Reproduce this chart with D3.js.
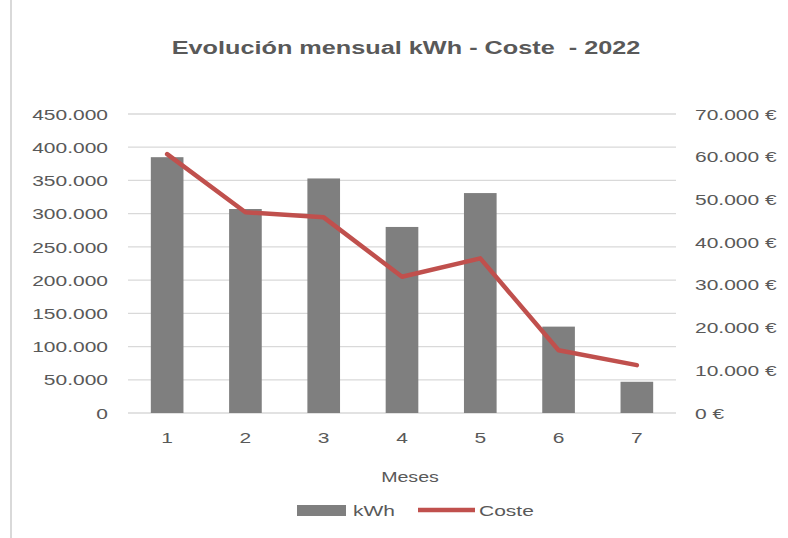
<!DOCTYPE html>
<html>
<head>
<meta charset="utf-8">
<script src="https://cdn.jsdelivr.net/npm/d3@7"></script>
<style>
  html, body { margin: 0; padding: 0; background: #fff; }
  svg { display: block; font-family: "Liberation Sans", Arial, sans-serif; }
</style>
</head>
<body>
<svg id="chart" width="788" height="538"></svg>
<script>
// ---- data ----
const months = ["1", "2", "3", "4", "5", "6", "7"];
const kwh = [385000, 307000, 353000, 280000, 331000, 130000, 47000];
const coste = [60600, 47000, 45800, 31900, 36200, 14700, 11200];
const leftTicks = [0, 50000, 100000, 150000, 200000, 250000, 300000, 350000, 400000, 450000];
const rightTicks = [0, 10000, 20000, 30000, 40000, 50000, 60000, 70000];
const titleText = "Evolución mensual kWh - Coste  - 2022";
const xTitle = "Meses";
const seriesNames = ["kWh", "Coste"];

// ---- layout ----
const W = 788, H = 538;
const plot = { left: 128, right: 676, top: 114, bottom: 413 };
const SX = 1.4; // horizontal text stretch seen in the reference
const textColor = "#595959";
const gridColor = "#d9d9d9";
const barColor = "#7f7f7f";
const lineColor = "#c0504d";

const svg = d3.select("#chart");
svg.append("rect").attr("width", W).attr("height", H).attr("fill", "#fff");
svg.append("line").attr("x1", 11).attr("x2", 11).attr("y1", 0).attr("y2", H)
  .attr("stroke", gridColor).attr("stroke-width", 2);

const locale = d3.formatLocale({ decimal: ",", thousands: ".", grouping: [3], currency: ["", " €"] });
const fmt = locale.format(",");

const x = d3.scaleBand().domain(months).range([plot.left, plot.right])
  .paddingInner(0.583).paddingOuter(0.2915);
const yL = d3.scaleLinear().domain([0, 450000]).range([plot.bottom, plot.top]);
const yR = d3.scaleLinear().domain([0, 70000]).range([plot.bottom, plot.top]);

// gridlines
svg.append("g").selectAll("line").data(leftTicks).join("line")
  .attr("x1", plot.left).attr("x2", plot.right)
  .attr("y1", d => yL(d)).attr("y2", d => yL(d))
  .attr("stroke", gridColor).attr("stroke-width", 1.3);

// bars
svg.append("g").selectAll("rect").data(kwh).join("rect")
  .attr("x", (d, i) => x(months[i]))
  .attr("width", x.bandwidth())
  .attr("y", d => yL(d))
  .attr("height", d => yL(0) - yL(d))
  .attr("fill", barColor);

// line
const line = d3.line()
  .x((d, i) => x(months[i]) + x.bandwidth() / 2)
  .y(d => yR(d));
svg.append("path").datum(coste).attr("d", line)
  .attr("fill", "none").attr("stroke", lineColor).attr("stroke-width", 4.5)
  .attr("stroke-linejoin", "round").attr("stroke-linecap", "round");

function styleAxis(g) {
  g.select(".domain").remove();
  g.selectAll(".tick line").remove();
  g.selectAll("text").attr("fill", textColor).style("font-size", "15px")
    .style("font-family", "'Liberation Sans', Arial, sans-serif");
}

// left axis
const gL = svg.append("g").attr("transform", `translate(${plot.left},0)`)
  .call(d3.axisLeft(yL).tickValues(leftTicks).tickFormat(fmt).tickSize(0));
styleAxis(gL);
gL.selectAll("text").attr("x", -20 / SX).attr("dy", "0.34em").attr("transform", `scale(${SX},1)`);

// right axis
const gR = svg.append("g").attr("transform", `translate(${plot.right},0)`)
  .call(d3.axisRight(yR).tickValues(rightTicks).tickFormat(d => fmt(d) + " €").tickSize(0));
styleAxis(gR);
gR.selectAll("text").attr("x", 19 / SX).attr("dy", "0.34em").attr("transform", `scale(${SX},1)`);

// x axis
const gX = svg.append("g").attr("transform", `translate(0,${plot.bottom})`)
  .call(d3.axisBottom(x).tickSize(0));
styleAxis(gX);
gX.selectAll("text").attr("y", 30).attr("dy", 0).attr("transform", `scale(${SX},1)`);

// title
svg.append("text")
  .attr("transform", `translate(406,54) scale(1.33,1)`)
  .attr("text-anchor", "middle").attr("fill", textColor)
  .style("font-size", "19px").style("font-weight", "bold")
  .style("white-space", "pre").attr("xml:space", "preserve")
  .text(titleText);

// x axis title
svg.append("text")
  .attr("transform", `translate(410,482) scale(${SX},1)`)
  .attr("text-anchor", "middle").attr("fill", textColor)
  .style("font-size", "14px")
  .text(xTitle);

// legend
const lg = svg.append("g");
lg.append("rect").attr("x", 297).attr("y", 505).attr("width", 49).attr("height", 11).attr("fill", barColor);
lg.append("text").attr("transform", `translate(353,516) scale(${SX},1)`)
  .attr("fill", textColor).style("font-size", "15px").text(seriesNames[0]);
lg.append("line").attr("x1", 418).attr("x2", 475).attr("y1", 510).attr("y2", 510)
  .attr("stroke", lineColor).attr("stroke-width", 4.5);
lg.append("text").attr("transform", `translate(479,516) scale(${SX},1)`)
  .attr("fill", textColor).style("font-size", "15px").text(seriesNames[1]);
</script>
</body>
</html>
